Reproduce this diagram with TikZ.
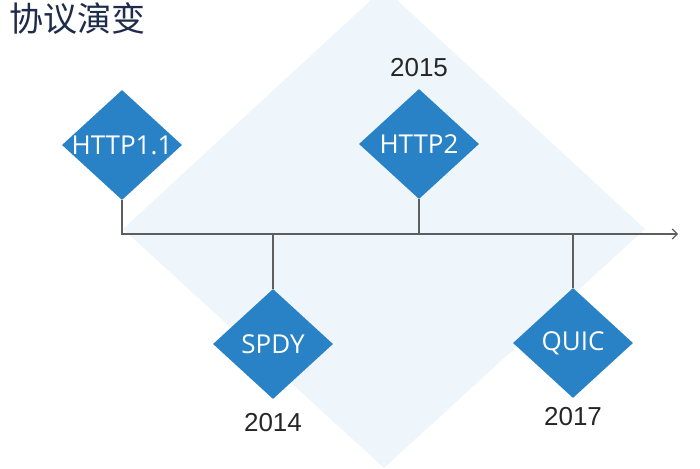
\documentclass[tikz,border=0pt]{standalone}
\usepackage{fontspec}
\setmainfont{Liberation Sans}
\newfontfamily\cjkfont{Noto Sans CJK SC}
\newfontfamily\labelfont{Open Sans}
\usetikzlibrary{shapes.geometric,positioning,arrows.meta}
\definecolor{verblue}{HTML}{2882C5}
\definecolor{bgblue}{HTML}{EEF6FB}
\definecolor{axisgray}{HTML}{5E5E5E}
\definecolor{titlenavy}{HTML}{1E2B4A}
\tikzset{
  version/.style={diamond, fill=verblue, minimum width=120pt, minimum height=110pt, inner sep=0pt},
  vtext/.style={text=white, font=\labelfont\fontsize{26}{30}\selectfont},
  year/.style={font=\fontsize{26}{30}\selectfont, text=black!85},
  axis/.style={draw=axisgray, line width=1.2pt},
}
\begin{document}
\begin{tikzpicture}[x=1pt,y=-1pt]
  \useasboundingbox (0,0) rectangle (700,468);
  \begin{scope}
    \clip (0,0) rectangle (700,468);
    \fill[bgblue] (123,229) -- (384,-12) -- (645,229) -- (384,468) -- cycle;
  \end{scope}

  \node[anchor=west, inner sep=0pt, text=titlenavy, font=\cjkfont\fontsize{34}{38}\selectfont] (title) at (9,19) {协议演变};

  % versions
  \node[version, label={[vtext]center:HTTP1.1}] (h11) at (122,145) {};
  \node[version, label={[vtext]center:HTTP2}]   (h2)   at (419,144) {};
  \node[version, label={[vtext]center:SPDY}]    (spdy) at (273,344) {};
  \node[version, label={[vtext]center:QUIC}]    (quic) at (573,343) {};

  \node[year, above=9pt of h2]  (y15) {2015};
  \node[year, below=11pt of spdy] (y14) {2014};
  \node[year, below=6pt of quic] (y17) {2017};

  % time line
  \coordinate (tip) at (678,234);
  \draw[axis, -{Straight Barb[length=5pt,width=10pt]}] (h11.south) |- (tip);
  \draw[axis] (h2.south) -- (h2.south |- tip);
  \draw[axis] (spdy.north) -- (spdy.north |- tip);
  \draw[axis] (quic.north) -- (quic.north |- tip);
\end{tikzpicture}
\end{document}
